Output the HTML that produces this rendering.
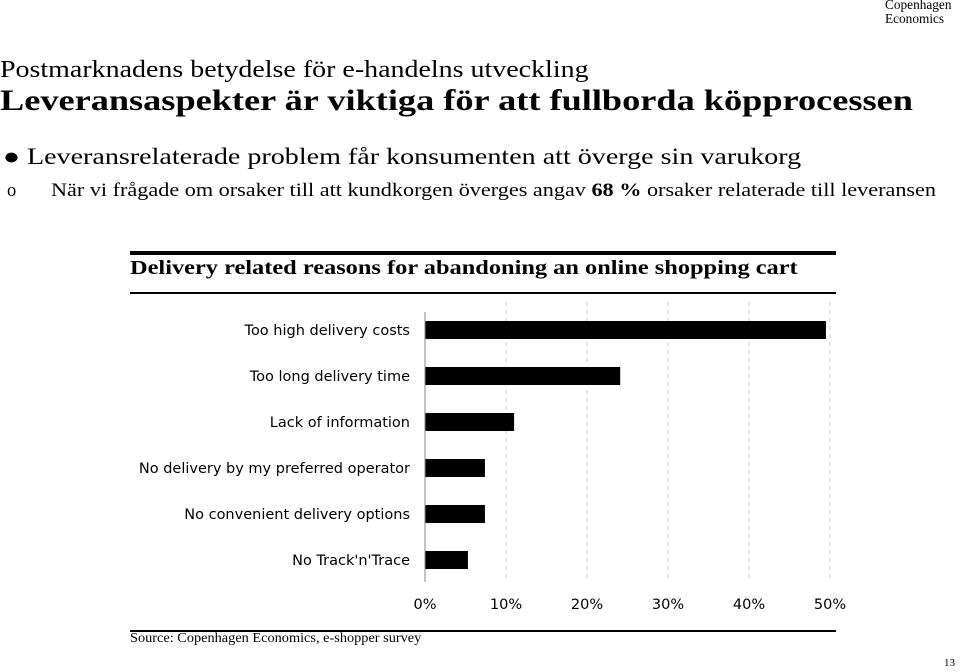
<!DOCTYPE html>
<html><head><meta charset="utf-8">
<style>
body{margin:0;width:960px;height:672px;background:#fff;position:relative;overflow:hidden;font-family:"Liberation Serif",serif;color:#000}
.a{position:absolute;white-space:nowrap;transform-origin:0 0}
</style></head><body>
<div class="a" style="left:885px;top:-1px;font-size:14px;line-height:14px;transform:scaleX(0.95)">Copenhagen<br>Economics</div>
<div class="a" style="left:0;top:57px;font-size:24px;transform:scaleX(1.165)">Postmarknadens betydelse för e-handelns utveckling</div>
<div class="a" style="left:0;top:84px;font-size:30px;font-weight:bold;transform:scaleX(1.21)">Leveransaspekter är viktiga för att fullborda köpprocessen</div>
<div class="a" style="left:3px;top:144px;font-size:23px;transform:scaleX(1.22)">● Leveransrelaterade problem får konsumenten att överge sin varukorg</div>
<div class="a" style="left:7px;top:181px;font-size:18.5px">o</div>
<div class="a" style="left:51px;top:181px;font-size:18.5px;transform:scaleX(1.2)">När vi frågade om orsaker till att kundkorgen överges angav <b>68 %</b> orsaker relaterade till leveransen</div>
<div class="a" style="left:130px;top:251px;width:706px;height:4px;background:#000"></div>
<div class="a" style="left:130px;top:258px;font-size:19.5px;font-weight:bold;transform:scaleX(1.25)">Delivery related reasons for abandoning an online shopping cart</div>
<div class="a" style="left:130px;top:292px;width:706px;height:2px;background:#000"></div>
<svg id="chart" class="a" style="left:0;top:0" width="960" height="672"></svg>
<div class="a" style="left:130px;top:630px;width:706px;height:2px;background:#000"></div>
<div class="a" style="left:130px;top:630px;font-size:13.5px;transform:scaleX(1.06)">Source: Copenhagen Economics, e-shopper survey</div>
<div class="a" style="left:944px;top:657px;font-size:11px">13</div>
<script>
const categories=["Too high delivery costs","Too long delivery time","Lack of information","No delivery by my preferred operator","No convenient delivery options","No Track'n'Trace"];
const values=[49.5,24.1,11,7.4,7.4,5.3];
const ticks=[0,10,20,30,40,50];
const tickLabels=["0%","10%","20%","30%","40%","50%"];
const NS="http://www.w3.org/2000/svg";
const svg=document.getElementById('chart');
const x0=425,pxPer=8.1;
const xs=v=>x0+v*pxPer;
const yTop=307,band=46;
const ys=i=>yTop+i*band+14;
function mk(t,a){const e=document.createElementNS(NS,t);for(const k in a)e.setAttribute(k,a[k]);svg.appendChild(e);return e;}
ticks.forEach((t,i)=>{
 if(t>0){const g=mk('line',{x1:xs(t),x2:xs(t),y1:302,y2:582,stroke:'#ccc','stroke-dasharray':'4,4'});
 
 }
 const l=mk('text',{x:xs(t),y:609,'text-anchor':'middle','font-family':'DejaVu Sans, sans-serif','font-size':'14.5'});
 l.textContent=tickLabels[i];
 
 
});
categories.forEach((c,i)=>{
 const b=mk('rect',{x:x0,y:ys(i),width:xs(values[i])-x0,height:18,fill:'#000'});
 
 
 const t=mk('text',{x:410,y:ys(i)+14,'text-anchor':'end','font-family':'DejaVu Sans, sans-serif','font-size':'14.5'});
 t.textContent=c;
 
 
});
const ax=mk('line',{x1:x0,x2:x0,y1:312,y2:582,stroke:'#888','stroke-width':1});


</script>
</body></html>
